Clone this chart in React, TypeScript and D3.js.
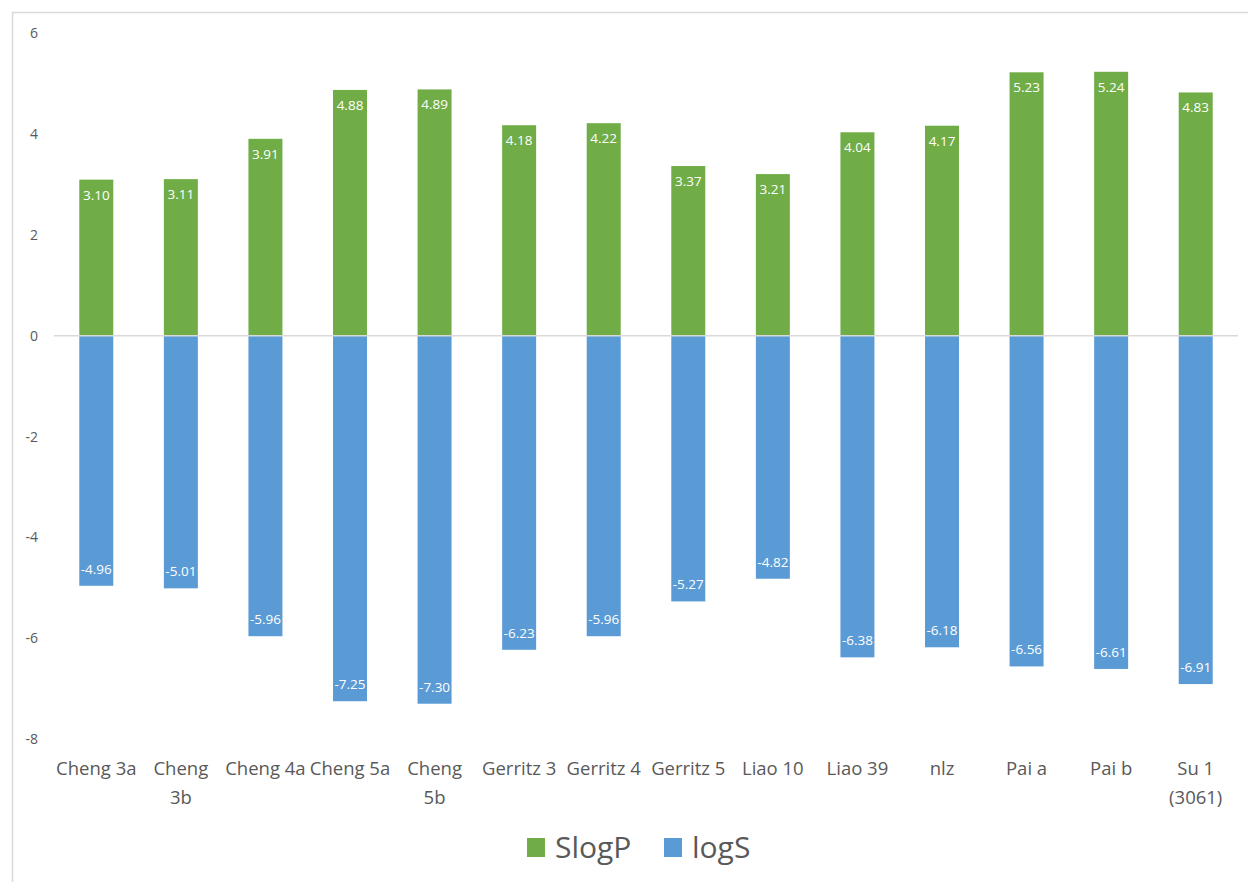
import React from "react";
import * as d3 from "d3";

const categories = [
  "Cheng 3a", "Cheng 3b", "Cheng 4a", "Cheng 5a", "Cheng 5b", "Gerritz 3", "Gerritz 4",
  "Gerritz 5", "Liao 10", "Liao 39", "nlz", "Pai a", "Pai b", "Su 1 (3061)",
];
// how Excel wrapped the axis labels
const categoryLines = [
  ["Cheng 3a"], ["Cheng", "3b"], ["Cheng 4a"], ["Cheng 5a"], ["Cheng", "5b"], ["Gerritz 3"], ["Gerritz 4"],
  ["Gerritz 5"], ["Liao 10"], ["Liao 39"], ["nlz"], ["Pai a"], ["Pai b"], ["Su 1", "(3061)"],
];
const slogP = [3.10, 3.11, 3.91, 4.88, 4.89, 4.18, 4.22, 3.37, 3.21, 4.04, 4.17, 5.23, 5.24, 4.83];
const logS = [-4.96, -5.01, -5.96, -7.25, -7.30, -6.23, -5.96, -5.27, -4.82, -6.38, -6.18, -6.56, -6.61, -6.91];
const yTicks = [-8, -6, -4, -2, 0, 2, 4, 6];
const seriesNames = ["SlogP", "logS"];
const seriesColors = ["#70AD47", "#5B9BD5"];

const W = 1248;
const H = 882;
const FONT = "'Open Sans', 'Noto Sans', sans-serif";
const TEXT = "#595959";

export default function App() {
  const x = d3.scaleBand<string>().domain(categories).range([54, 1238]).paddingInner(0.6).paddingOuter(0.3);
  const y = d3.scaleLinear().domain([-8, 6]).range([739, 33.5]);
  const bw = 34;
  const fmt = (v: number) => d3.format(".2f")(v).replace("\u2212", "-");

  return (
    <svg width={W} height={H} style={{ position: "absolute", left: 0, top: 0, background: "#fff" }}>
      <rect x={0} y={0} width={W} height={H} fill="#fff" />
      <line x1={12} y1={12.5} x2={W} y2={12.5} stroke="#d9d9d9" strokeWidth={1.5} />
      <line x1={12.5} y1={12} x2={12.5} y2={H} stroke="#d9d9d9" strokeWidth={1.5} />

      {yTicks.map((t) => (
        <text key={t} x={38} y={y(t)} dy="0.35em" textAnchor="end" fontFamily={FONT} fontSize={14} fill={TEXT}>
          {String(t)}
        </text>
      ))}

      {categories.map((c, i) => {
        const cx = (x(c) as number) + x.bandwidth() / 2;
        return (
          <g key={c}>
            <rect x={cx - bw / 2} y={y(slogP[i])} width={bw} height={y(0) - y(slogP[i])} fill={seriesColors[0]} />
            <rect x={cx - bw / 2} y={y(0)} width={bw} height={y(logS[i]) - y(0)} fill={seriesColors[1]} />
            <text x={cx} y={y(slogP[i]) + 20} textAnchor="middle" fontFamily={FONT} fontSize={13.5} fill="#fff">
              {fmt(slogP[i])}
            </text>
            <text x={cx} y={y(logS[i]) - 12} textAnchor="middle" fontFamily={FONT} fontSize={13.5} fill="#fff">
              {fmt(logS[i])}
            </text>
            {categoryLines[i].map((ln, j) => (
              <text key={j} x={cx} y={775 + j * 29} textAnchor="middle" fontFamily={FONT} fontSize={18.5} fill={TEXT}>
                {ln}
              </text>
            ))}
          </g>
        );
      })}

      <line x1={54} x2={1238} y1={y(0)} y2={y(0)} stroke="#d9d9d9" strokeWidth={1.5} />

      <g>
        <rect x={527} y={838} width={18} height={19} fill={seriesColors[0]} />
        <text x={555} y={858} fontFamily={FONT} fontSize={30} fill={TEXT}>{seriesNames[0]}</text>
        <rect x={664} y={838} width={18} height={19} fill={seriesColors[1]} />
        <text x={692} y={858} fontFamily={FONT} fontSize={30} fill={TEXT}>{seriesNames[1]}</text>
      </g>
    </svg>
  );
}
